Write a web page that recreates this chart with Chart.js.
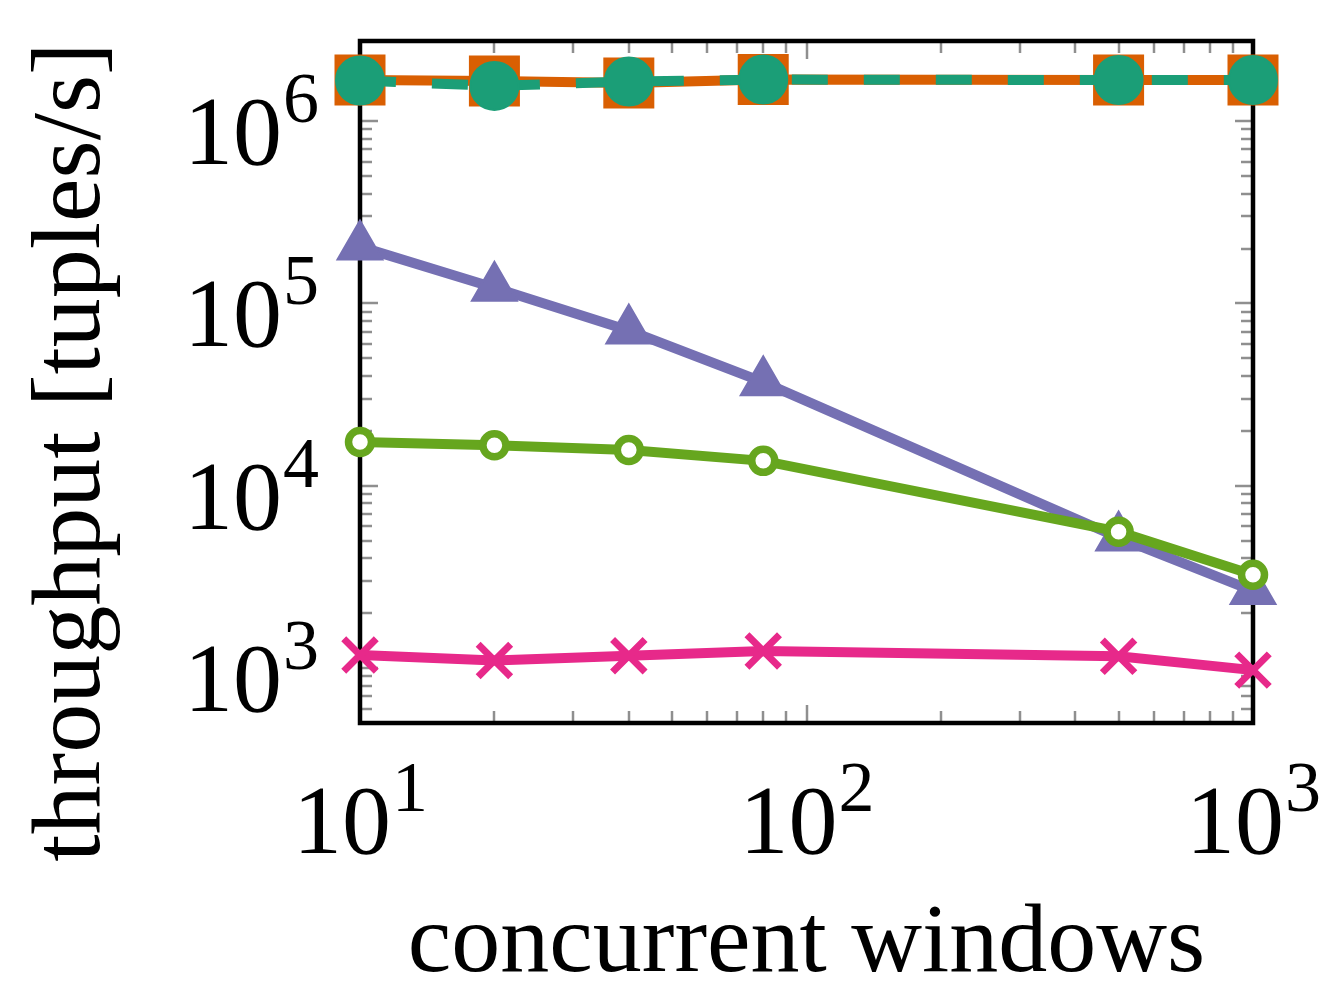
<!DOCTYPE html>
<html>
<head>
<meta charset="utf-8">
<title>Throughput vs concurrent windows</title>
<script src="https://cdn.jsdelivr.net/npm/chart.js@4/dist/chart.umd.min.js"></script>
<style>
  html, body { margin: 0; padding: 0; background: #fff; }
  #wrap { width: 1330px; height: 988px; }
</style>
</head>
<body>
<div id="wrap"><canvas id="tputChart" width="1330" height="988"></canvas></div>
<script>
// =========================
// Data
// =========================
const windows = [10, 20, 40, 80, 500, 1000];

const seriesOrange = [1.68e6, 1.66e6, 1.62e6, 1.69e6, 1.68e6, 1.68e6];
const seriesTeal = [1.67e6, 1.56e6, 1.65e6, 1.69e6, 1.68e6, 1.68e6];
const seriesPurple = [2.05e5, 1.22e5, 7.1e4, 3.7e4, 5.2e3, 2.65e3];
const seriesGreen = [1.74e4, 1.67e4, 1.57e4, 1.37e4, 5.6e3, 3.25e3];
const seriesPink = [1180, 1100, 1170, 1240, 1160, 975];

// axis ranges and ticks
const xMin = 10;
const xMax = 1000;
const yMin = 500;
const yMax = 2.75e6;
const xMajorTicks = [10, 100, 1000];
const xMinorTicks = [20, 30, 40, 50, 60, 70, 80, 90, 200, 300, 400, 500, 600, 700, 800, 900];
const yMajorTicks = [1e3, 1e4, 1e5, 1e6];
const yMinorTicks = [];
[100, 1e3, 1e4, 1e5, 1e6].forEach((d) => {
  for (let k = 2; k <= 9; k++) {
    const v = k * d;
    if (v >= yMin && v <= yMax) yMinorTicks.push(v);
  }
});

const SERIF = '"Liberation Serif", "Times New Roman", serif';

// =========================
// Frame, inward ticks, labels (pgfplots look)
// =========================
function drawPow(ctx, exp, x, baseY, align) {
  ctx.font = `98px ${SERIF}`;
  const wBase = ctx.measureText("10").width;
  ctx.font = `72px ${SERIF}`;
  const wExp = ctx.measureText(String(exp)).width;
  let start = x;
  if (align === "right") start = x - wBase - wExp;
  if (align === "center") start = x - (wBase + wExp) / 2;
  ctx.textAlign = "left";
  ctx.textBaseline = "alphabetic";
  ctx.font = `98px ${SERIF}`;
  ctx.fillText("10", start, baseY);
  ctx.font = `72px ${SERIF}`;
  ctx.fillText(String(exp), start + wBase + 1, baseY - 42);
}

const pgfFrame = {
  id: "pgfFrame",
  beforeDatasetsDraw(chart) {
    const { ctx, chartArea: a } = chart;
    const xs = chart.scales.x;
    const ys = chart.scales.y;
    ctx.save();

    // inward tick marks on all four sides
    ctx.strokeStyle = "#8f8f8f";
    ctx.lineWidth = 2.5;
    ctx.beginPath();
    const xTick = (v, len) => {
      const px = Math.round(xs.getPixelForValue(v));
      ctx.moveTo(px, a.bottom);
      ctx.lineTo(px, a.bottom - len);
      ctx.moveTo(px, a.top);
      ctx.lineTo(px, a.top + len);
    };
    const yTick = (v, len) => {
      const py = Math.round(ys.getPixelForValue(v));
      ctx.moveTo(a.left, py);
      ctx.lineTo(a.left + len, py);
      ctx.moveTo(a.right, py);
      ctx.lineTo(a.right - len, py);
    };
    xMinorTicks.forEach((v) => xTick(v, 12));
    xMajorTicks.forEach((v) => xTick(v, 18));
    yMinorTicks.forEach((v) => yTick(v, 12));
    yMajorTicks.forEach((v) => yTick(v, 18));
    ctx.stroke();

    // black frame
    ctx.strokeStyle = "#000";
    ctx.lineWidth = 4.5;
    ctx.strokeRect(a.left, a.top, a.right - a.left, a.bottom - a.top);
    ctx.restore();
  },
  afterDraw(chart) {
    const { ctx, chartArea: a } = chart;
    const xs = chart.scales.x;
    const ys = chart.scales.y;
    ctx.save();
    ctx.fillStyle = "#000";

    // y tick labels
    yMajorTicks.forEach((v) => {
      const py = ys.getPixelForValue(v);
      drawPow(ctx, Math.round(Math.log10(v)), a.left - 42, py + 43, "right");
    });

    // x tick labels
    xMajorTicks.forEach((v) => {
      const px = xs.getPixelForValue(v);
      drawPow(ctx, Math.round(Math.log10(v)), px, a.bottom + 130, "center");
    });

    // axis titles
    ctx.font = `98px ${SERIF}`;
    ctx.textAlign = "center";
    ctx.textBaseline = "alphabetic";
    ctx.fillText("concurrent windows", (a.left + a.right) / 2, 971);

    ctx.translate(99, 452);
    ctx.rotate(-Math.PI / 2);
    ctx.fillText("throughput [tuples/s]", 0, 0);
    ctx.restore();
  },
};

// =========================
// Chart
// =========================
function toPoints(values) {
  return windows.map((w, i) => ({ x: w, y: values[i] }));
}

const ctx = document.getElementById("tputChart");
new Chart(ctx, {
  type: "line",
  data: {
    datasets: [
      {
        label: "teal",
        data: toPoints(seriesTeal),
        borderColor: "#1b9e77",
        backgroundColor: "#1b9e77",
        borderWidth: 10,
        borderDash: [36, 36],
        pointStyle: "circle",
        pointRadius: 24,
        pointBorderWidth: 2,
        order: 1,
      },
      {
        label: "orange",
        data: toPoints(seriesOrange),
        borderColor: "#d95f02",
        backgroundColor: "#d95f02",
        borderWidth: 10,
        pointStyle: "rect",
        pointRadius: 35,
        pointBorderWidth: 1.5,
        order: 2,
      },
      {
        label: "green",
        data: toPoints(seriesGreen),
        borderColor: "#66a61e",
        backgroundColor: "#ffffff",
        borderWidth: 10,
        pointStyle: "circle",
        pointRadius: 11.5,
        pointBorderWidth: 7.5,
        order: 3,
      },
      {
        label: "purple",
        data: toPoints(seriesPurple),
        borderColor: "#7570b3",
        backgroundColor: "#7570b3",
        borderWidth: 10,
        pointStyle: "triangle",
        pointRadius: 26,
        pointBorderWidth: 2,
        order: 4,
      },
      {
        label: "pink",
        data: toPoints(seriesPink),
        borderColor: "#e7298a",
        backgroundColor: "#e7298a",
        borderWidth: 10,
        pointStyle: "crossRot",
        pointRadius: 23,
        pointBorderWidth: 7,
        order: 5,
      },
    ],
  },
  options: {
    responsive: false,
    animation: false,
    devicePixelRatio: 1,
    clip: false,
    layout: { padding: { left: 360, top: 41, right: 77, bottom: 265 } },
    elements: { line: { tension: 0, fill: false } },
    plugins: {
      legend: { display: false },
      tooltip: { enabled: false },
    },
    scales: {
      x: { type: "logarithmic", min: xMin, max: xMax, display: false },
      y: { type: "logarithmic", min: yMin, max: yMax, display: false },
    },
  },
  plugins: [pgfFrame],
});
</script>
</body>
</html>
